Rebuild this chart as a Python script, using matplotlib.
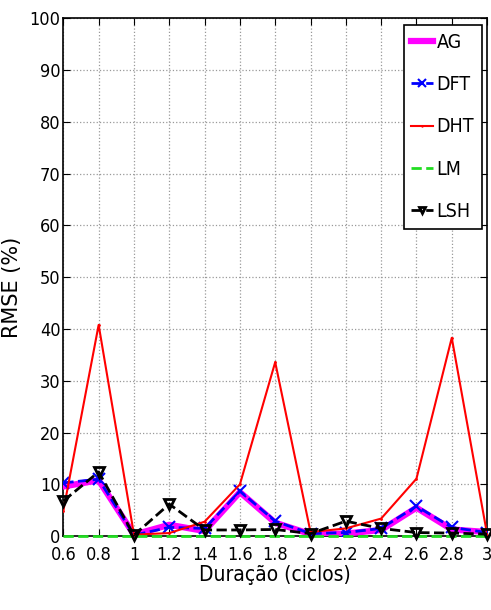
import matplotlib
matplotlib.use('Agg')
import matplotlib.pyplot as plt

# Duração (ciclos) e RMSE (%) por método
duracao = [0.6, 0.8, 1.0, 1.2, 1.4, 1.6, 1.8, 2.0, 2.2, 2.4, 2.6, 2.8, 3.0]
rmse_ag = [9.6, 10.8, 0.3, 2.2, 1.0, 8.5, 2.6, 0.4, 0.5, 1.2, 5.5, 1.3, 0.8]
rmse_dft = [10.3, 11.0, 0.2, 1.7, 1.5, 8.7, 2.9, 0.5, 0.7, 1.5, 5.8, 1.7, 0.7]
rmse_dht = [4.9, 40.8, 0.3, 0.6, 2.8, 10.0, 33.6, 0.8, 1.5, 3.4, 11.1, 38.3, 0.4]
rmse_lm = [0, 0, 0, 0, 0, 0, 0, 0, 0, 0, 0, 0, 0]
rmse_lsh = [6.8, 12.4, 0.2, 6.2, 1.2, 1.2, 1.3, 0.5, 2.9, 1.5, 0.7, 0.6, 0.4]

xticks = [0.6, 0.8, 1, 1.2, 1.4, 1.6, 1.8, 2, 2.2, 2.4, 2.6, 2.8, 3]
xticklabels = ['0.6', '0.8', '1', '1.2', '1.4', '1.6', '1.8', '2', '2.2', '2.4', '2.6', '2.8', '3']

# fonte estreita, parecida com a do MATLAB
plt.rcParams['font.family'] = 'DejaVu Sans'
plt.rcParams['font.stretch'] = 'condensed'

fig = plt.figure(figsize=(4.91, 6.10), dpi=100)
ax = fig.add_axes([0.129, 0.121, 0.863, 0.849])

ax.plot(duracao, rmse_ag, color='magenta', linewidth=4.5, label='AG', zorder=3)
ax.plot(duracao, rmse_dft, color='blue', linestyle='--', linewidth=2, marker='x',
        markersize=8, markeredgewidth=1.5, label='DFT', zorder=4)
ax.plot(duracao, rmse_dht, color='red', linewidth=1.5, marker='.', markersize=2,
        label='DHT', zorder=5)
ax.plot(duracao, rmse_lm, color='#22dd22', linestyle='--', linewidth=2, label='LM',
        zorder=6, clip_on=False)
ax.plot(duracao, rmse_lsh, color='black', linestyle='--', linewidth=2, marker='v',
        markersize=7, markerfacecolor='none', markeredgewidth=2, label='LSH', zorder=7,
        clip_on=False)

ax.set_xlim(0.6, 3)
ax.set_ylim(0, 100)
ax.set_xticks(xticks)
ax.set_xticklabels(xticklabels)
ax.set_yticks(range(0, 101, 10))
ax.tick_params(direction='in', length=5, labelsize=13, top=True, right=True)
ax.tick_params(axis='x', pad=7)
ax.tick_params(axis='y', pad=2)
ax.grid(True, linestyle=':', color='#999999', linewidth=0.9)
for s in ax.spines.values():
    s.set_linewidth(1.2)

ax.set_xlabel('Duração (ciclos)', fontsize=15, labelpad=1)
ax.set_ylabel('RMSE (%)', fontsize=15, fontstretch='normal')
ax.yaxis.set_label_coords(-0.097, 0.48)

leg = ax.legend(loc='upper right', bbox_to_anchor=(482 / 491, 585 / 610),
                bbox_transform=fig.transFigure, fontsize=14, handlelength=1.1,
                handletextpad=0.2, borderaxespad=0, borderpad=0.4, labelspacing=1.2,
                markerscale=0.7, fancybox=False, framealpha=1, edgecolor='black')
leg.get_frame().set_linewidth(1.2)

plt.savefig('out.png', dpi=100)
plt.close()
